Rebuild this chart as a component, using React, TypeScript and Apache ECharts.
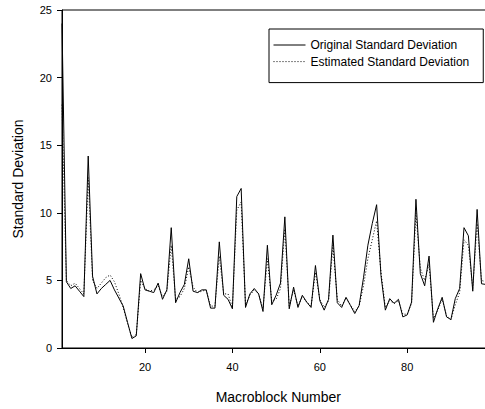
import React, { useEffect, useRef } from "react";
import * as echarts from "echarts";

const blockNumbers: number[] = Array.from({ length: 98 }, (_, i) => i + 1);

const originalSD: number[] = [
  24.0, 4.9, 4.4, 4.6, 4.2, 3.8, 14.2, 5.3, 4.0, 4.4,
  4.7, 5.0, 4.3, 3.7, 3.1, 1.9, 0.7, 0.9, 5.5, 4.3,
  4.2, 4.1, 4.8, 3.6, 4.3, 8.9, 3.35, 4.1, 4.7, 6.6,
  4.2, 4.1, 4.3, 4.3, 2.95, 2.95, 7.85, 3.9, 3.6, 2.9,
  11.2, 11.8, 3.0, 4.0, 4.4, 4.0, 2.7, 7.6, 3.2, 3.9,
  4.8, 9.7, 2.9, 4.5, 3.0, 3.9, 3.4, 3.0, 6.1, 3.5,
  2.8, 3.6, 8.35, 3.35, 3.0, 3.75, 3.15, 2.55, 3.15, 5.2,
  7.6, 9.2, 10.6, 5.35, 2.8, 3.65, 3.3, 3.6, 2.3, 2.45,
  3.4, 11.0, 5.5, 4.6, 6.8, 1.9, 2.9, 3.75, 2.3, 2.1,
  3.65, 4.4, 8.9, 8.3, 4.2, 10.25, 4.75, 4.7,
];

const estimatedSD: number[] = [
  18.0, 5.0, 4.6, 4.8, 4.4, 4.0, 12.6, 5.0, 4.4, 4.8,
  5.2, 5.4, 4.9, 4.0, 3.0, 1.8, 0.8, 1.0, 5.0, 4.4,
  4.2, 4.3, 4.6, 3.8, 4.2, 7.6, 3.6, 3.8, 4.4, 6.0,
  4.5, 4.1, 4.2, 4.3, 3.1, 3.1, 6.8, 4.0, 4.0, 3.0,
  10.2, 10.8, 3.2, 3.9, 4.3, 4.0, 2.9, 6.6, 3.5, 3.6,
  4.4, 8.8, 3.1, 4.3, 3.1, 3.8, 3.4, 3.1, 5.6, 3.6,
  3.0, 3.5, 7.6, 3.6, 3.1, 3.7, 3.2, 2.7, 3.1, 4.6,
  6.6, 8.0, 9.4, 5.6, 3.0, 3.5, 3.3, 3.5, 2.5, 2.5,
  3.3, 10.0, 5.9, 5.0, 6.2, 2.2, 2.8, 3.6, 2.4, 2.1,
  3.2, 4.1, 8.0, 7.6, 4.4, 9.2, 5.0, 4.9,
];

const xTickValues: number[] = [20, 40, 60, 80, 100];
const xLabelValues: number[] = [20, 40, 60, 80];
const yTickValues: number[] = [0, 5, 10, 15, 20, 25];

const seriesNames = ["Original Standard Deviation", "Estimated Standard Deviation"];

const FONT = "'Liberation Sans', Arial, Helvetica, sans-serif";

export default function App() {
  const ref = useRef<HTMLDivElement>(null);

  useEffect(() => {
    if (!ref.current) return;
    const chart = echarts.init(ref.current, undefined, { renderer: "svg" });
    const orig = blockNumbers.map((x, i) => [x, originalSD[i]]);
    const est = blockNumbers.map((x, i) => [x, estimatedSD[i]]);
    chart.setOption({
      animation: false,
      backgroundColor: "#fff",
      textStyle: { fontFamily: FONT, color: "#000" },
      grid: {
        left: 62,
        top: 10,
        right: 5.4,
        bottom: 59.5,
        show: true,
        borderColor: "#000",
        borderWidth: 1,
        containLabel: false,
      },
      legend: {
        data: seriesNames,
        orient: "vertical",
        left: 269,
        top: 29,
        itemWidth: 32,
        itemHeight: 12,
        itemGap: 4.6,
        padding: [10, 14, 15, 4],
        borderColor: "#000",
        borderWidth: 1,
        borderRadius: 0,
        backgroundColor: "#fff",
        selectedMode: false,
        itemStyle: { color: "rgba(0,0,0,0)", borderWidth: 0, opacity: 0 },
        lineStyle: { width: 1 },
        textStyle: { fontFamily: FONT, fontSize: 12, color: "#000", padding: [0, 0, 0, 0] },
      },
      xAxis: {
        type: "value",
        min: 1,
        max: 100,
        name: "Macroblock Number",
        nameLocation: "middle",
        nameGap: 42,
        nameTextStyle: { fontFamily: FONT, fontSize: 14, color: "#000" },
        axisLine: { show: true, lineStyle: { color: "#000", width: 1 } },
        axisTick: {
          show: true,
          inside: false,
          length: 5,
          customValues: xTickValues,
          lineStyle: { color: "#000" },
        },
        axisLabel: {
          customValues: xLabelValues,
          fontFamily: FONT,
          fontSize: 11,
          color: "#000",
          margin: 13,
        },
        splitLine: { show: false },
      },
      yAxis: {
        type: "value",
        min: 0,
        max: 25,
        interval: 5,
        name: "Standard Deviation",
        nameLocation: "middle",
        nameGap: 37,
        nameRotate: 90,
        nameTextStyle: { fontFamily: FONT, fontSize: 14, color: "#000" },
        axisLine: { show: true, lineStyle: { color: "#000", width: 1 } },
        axisTick: { show: true, inside: false, length: 5, lineStyle: { color: "#000" } },
        axisLabel: {
          customValues: yTickValues,
          fontFamily: FONT,
          fontSize: 11,
          color: "#000",
          margin: 10,
        },
        splitLine: { show: false },
      },
      series: [
        {
          name: seriesNames[1],
          type: "line",
          data: est,
          symbol: "none",
          lineStyle: { color: "#000", width: 1, type: [1, 2] },
          itemStyle: { color: "#000" },
          z: 2,
        },
        {
          name: seriesNames[0],
          type: "line",
          data: orig,
          symbol: "none",
          lineStyle: { color: "#000", width: 1, type: "solid" },
          itemStyle: { color: "#000" },
          z: 3,
        },
      ],
    });
    return () => chart.dispose();
  }, []);

  return (
    <div
      style={{
        position: "fixed",
        left: 0,
        top: 0,
        width: 485,
        height: 409,
        overflow: "hidden",
        background: "#fff",
      }}
    >
      <div ref={ref} style={{ width: 500, height: 409 }} />
    </div>
  );
}
